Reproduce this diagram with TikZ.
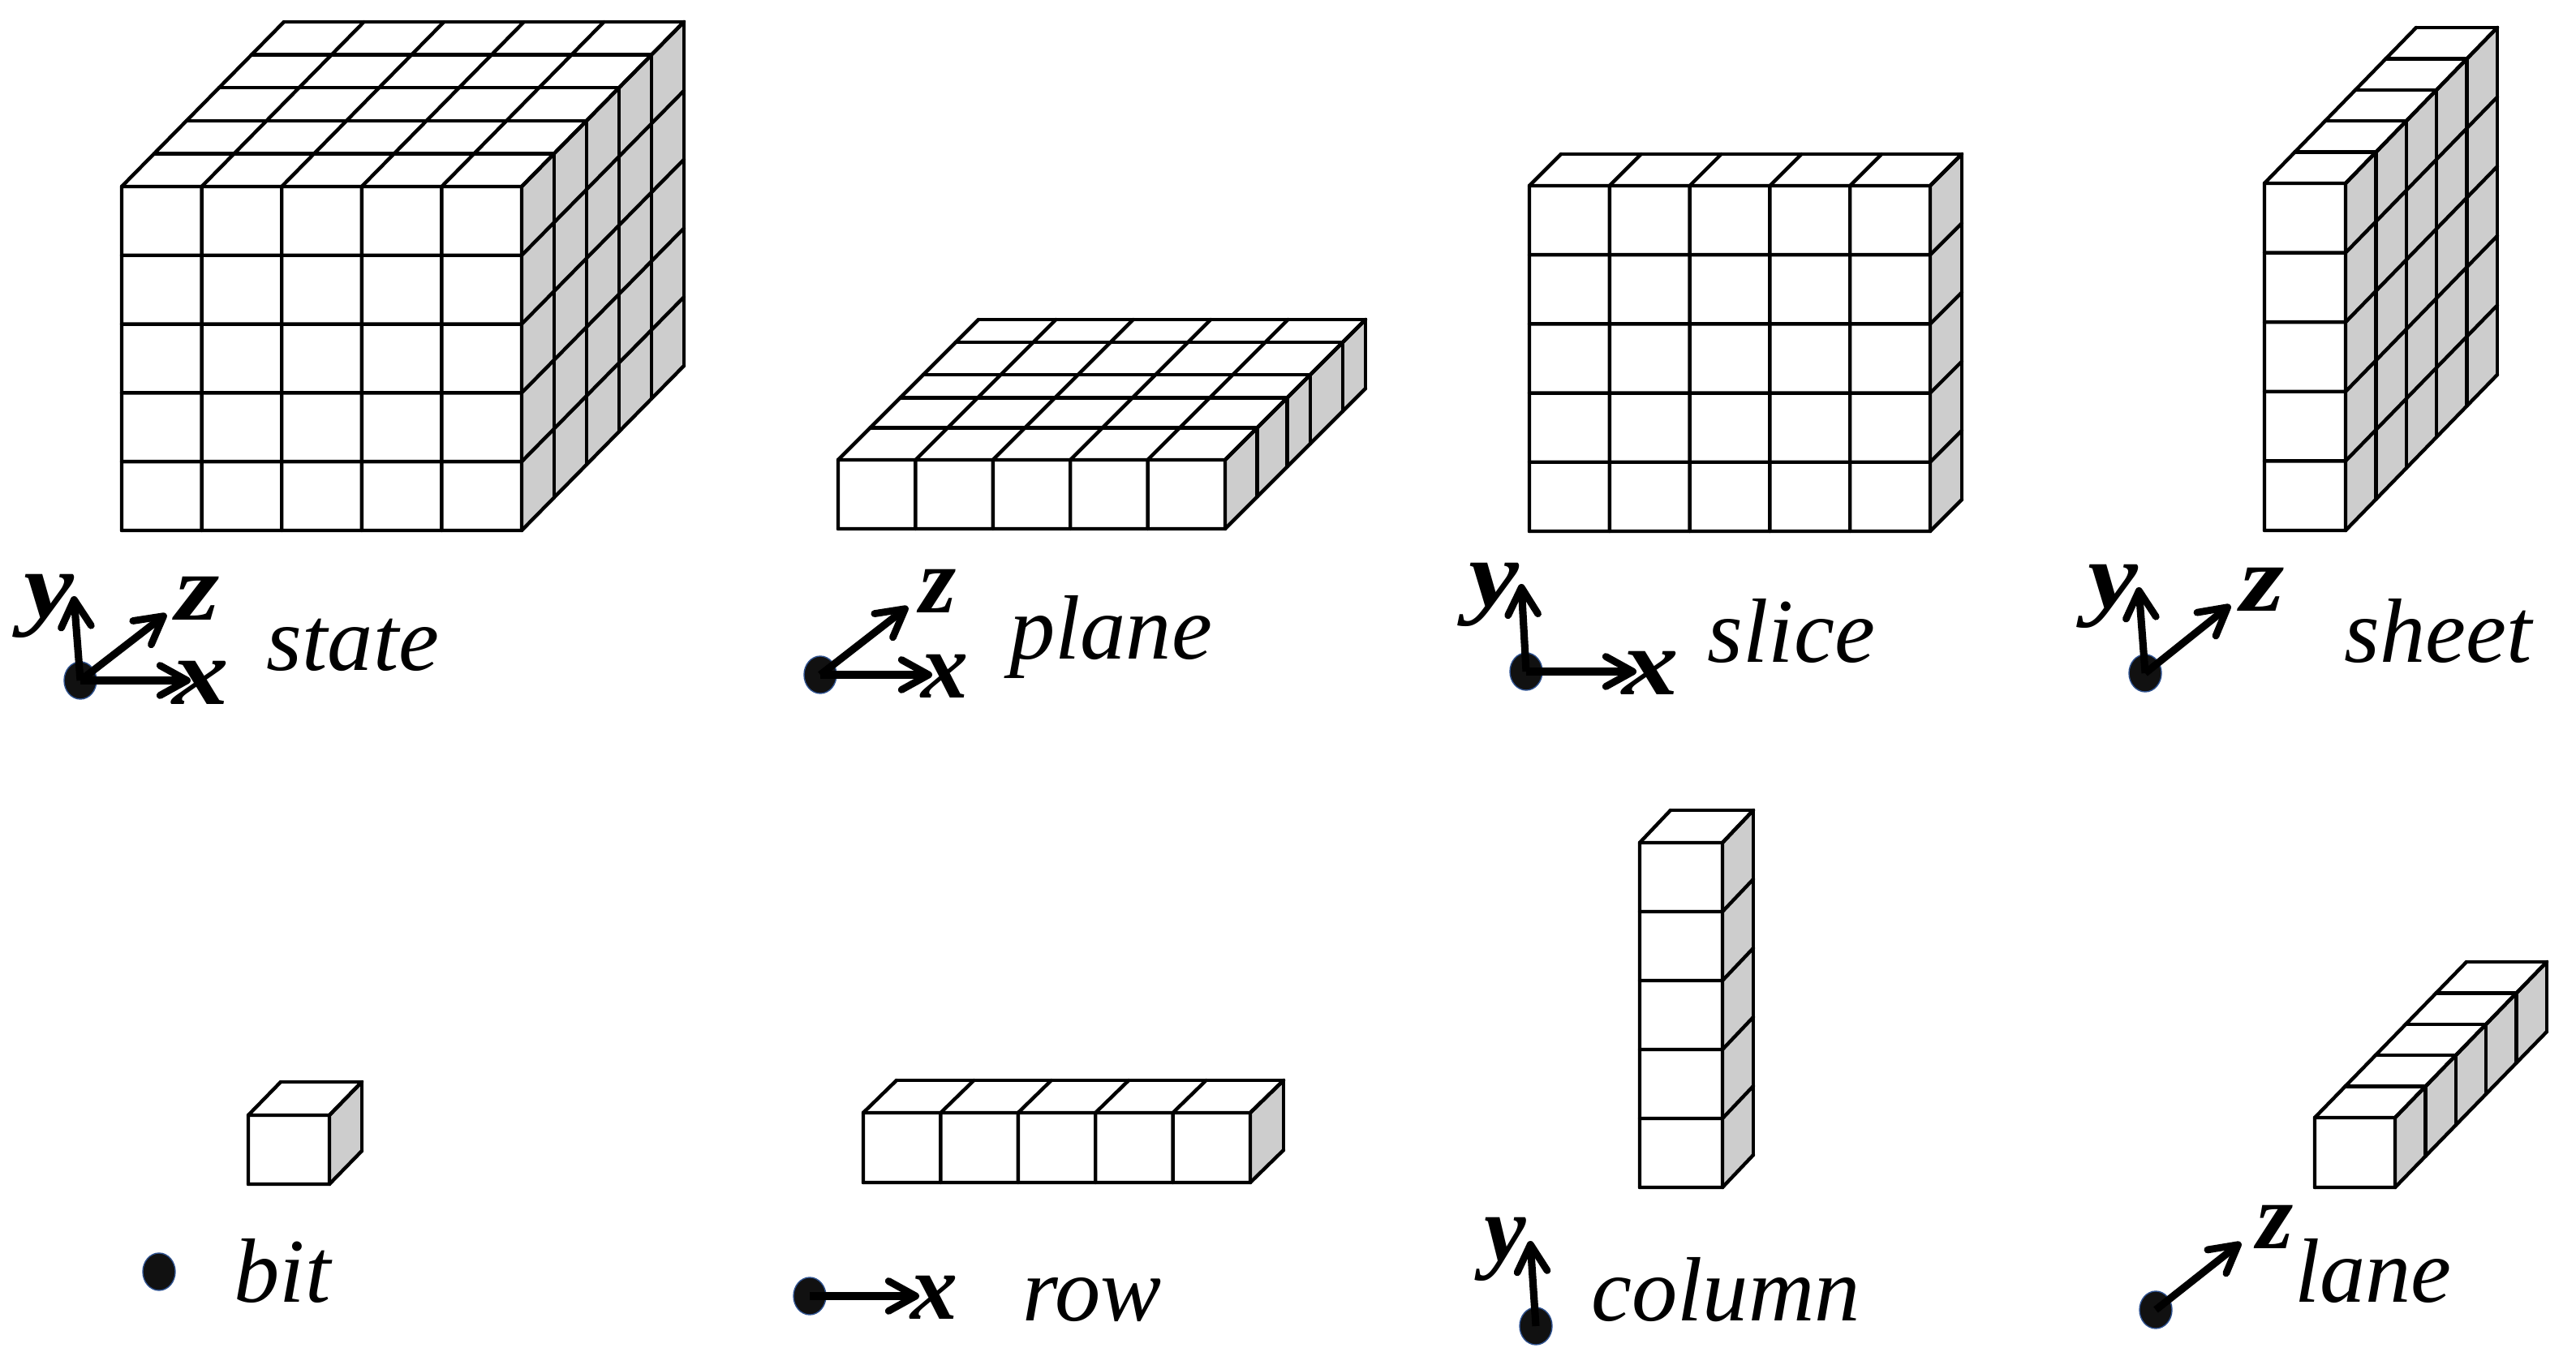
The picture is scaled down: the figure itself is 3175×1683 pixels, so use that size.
\documentclass[tikz,border=0pt]{standalone}
\usepackage{fontspec}
\setmainfont{Liberation Serif}
\usetikzlibrary{arrows.meta,shapes.geometric}
\definecolor{sidec}{HTML}{CDCDCD}
\definecolor{dotc}{HTML}{111111}
\definecolor{rimc}{HTML}{2F528F}
\tikzset{
  cell/.style={draw=black, line width=1.25pt, line cap=round},
  side/.style={fill=sidec},
  bitdot/.style={ellipse, draw=rimc, fill=dotc, line width=0.4pt, inner sep=0pt, minimum width=4mm, minimum height=4.6mm},
  axis/.style={-{Straight Barb[length=9.5pt, width=10.5pt, round, line width=2.5pt]}, line width=2.6pt},
  axlab/.style={inner sep=0pt, font=\fontsize{33}{36}\selectfont\bfseries\itshape},
  wide/.style={xscale=1.2, transform shape},
  tag/.style={inner sep=0pt, anchor=base, font=\fontsize{32}{36}\selectfont\itshape},
}
% x, y, width, height, dx, dy, columns, rows, depth fractions
\newcommand{\cubes}[9]{%
  \begin{scope}[shift={(#1,#2)}]
    \fill[side] (#3,0) -- ++(#5,-#6) -- ++(0,#4) -- ++(-#5,#6) -- cycle;
    \foreach \i in {0,...,#7} \draw[cell] ({#3*\i/#7},0) -- ({#3*\i/#7},#4) ({#3*\i/#7},0) -- ++(#5,-#6);
    \foreach \j in {0,...,#8} \draw[cell] (0,{#4*\j/#8}) -- (#3,{#4*\j/#8}) -- ++(#5,-#6);
    \foreach \f in {#9} \draw[cell] ({\f*#5},{-\f*#6}) -- ++(#3,0) -- ++(0,#4);
  \end{scope}}

\begin{document}
\begin{tikzpicture}[x=0.01cm, y=-0.01cm]
  \useasboundingbox (0,0) rectangle (3175,1683);
  \cubes{150}{230}{493}{424}{200}{203}{5}{5}{0.2,0.4,0.6,0.8,1}
  \cubes{1033}{567}{477}{85}{173}{173}{5}{1}{0.229,0.443,0.606,0.837,1}
  \cubes{1885}{229}{494}{426}{39}{39}{5}{5}{1}
  \cubes{2791}{226}{100}{428}{187}{192}{1}{5}{0.2,0.4,0.6,0.8,1}
  \cubes{306}{1375}{100}{85}{40}{41}{1}{1}{1}
  \cubes{1064}{1372}{477}{86}{41}{40}{5}{1}{1}
  \cubes{2021}{1039}{102}{425}{38}{40}{1}{5}{1}
  \cubes{2853}{1378}{99}{86}{187}{192}{1}{1}{0.2,0.4,0.6,0.8,1}

  % state
  \node[bitdot] (statedot) at (99,839) {};
  \coordinate (statex) at (235,839);
  \coordinate (statey) at (91,735);
  \coordinate (statez) at (205,757);
  \draw[axis] (statedot.center) -- (statex);
  \draw[axis] (statedot.center) -- (statey);
  \draw[axis] (statedot.center) -- (statez);
  \node[axlab, wide] (statexl) at (247,842) {x};
  \node[axlab, wide] (stateyl) at (60,747) {y};
  \node[axlab, wide] (statezl) at (244,738) {z};
  \node[tag] (statetag) at (435,827) {state};

  % plane
  \node[bitdot] (planedot) at (1011,832) {};
  \coordinate (planex) at (1149,832);
  \coordinate (planez) at (1119,748);
  \draw[axis] (planedot.center) -- (planex);
  \draw[axis] (planedot.center) -- (planez);
  \node[axlab] (planexl) at (1164,834) {x};
  \node[axlab] (planezl) at (1156,729) {z};
  \node[tag] (planetag) at (1369,813) {plane};

  % slice
  \node[bitdot] (slicedot) at (1881,828) {};
  \coordinate (slicex) at (2017,828);
  \coordinate (slicey) at (1875,720);
  \draw[axis] (slicedot.center) -- (slicex);
  \draw[axis] (slicedot.center) -- (slicey);
  \node[axlab, wide] (slicexl) at (2034,830) {x};
  \node[axlab, wide] (sliceyl) at (1841,733) {y};
  \node[tag] (slicetag) at (2208,817) {slice};

  % sheet
  \node[bitdot] (sheetdot) at (2644,830) {};
  \coordinate (sheety) at (2636,724);
  \coordinate (sheetz) at (2749,746);
  \draw[axis] (sheetdot.center) -- (sheety);
  \draw[axis] (sheetdot.center) -- (sheetz);
  \node[axlab, wide] (sheetyl) at (2604,735) {y};
  \node[axlab, wide] (sheetzl) at (2789,727) {z};
  \node[tag] (sheettag) at (3005,817) {sheet};

  % bit
  \node[bitdot] (bitdot) at (196,1568) {};
  \node[tag] (bittag) at (348,1605) {bit};

  % row
  \node[bitdot] (rowdot) at (998,1598) {};
  \coordinate (rowx) at (1133,1598);
  \draw[axis] (rowdot.center) -- (rowx);
  \node[axlab] (rowxl) at (1151,1600) {x};
  \node[tag] (rowtag) at (1346,1628) {row};

  % column
  \node[bitdot] (columndot) at (1893,1635) {};
  \coordinate (columny) at (1886,1530);
  \draw[axis] (columndot.center) -- (columny);
  \node[axlab] (columnyl) at (1855,1540) {y};
  \node[tag] (columntag) at (2127,1628) {column};

  % lane
  \node[bitdot] (lanedot) at (2657,1615) {};
  \coordinate (lanez) at (2762,1532);
  \draw[axis] (lanedot.center) -- (lanez);
  \node[axlab] (lanezl) at (2804,1513) {z};
  \node[tag] (lanetag) at (2925,1606) {lane};
\end{tikzpicture}
\end{document}
